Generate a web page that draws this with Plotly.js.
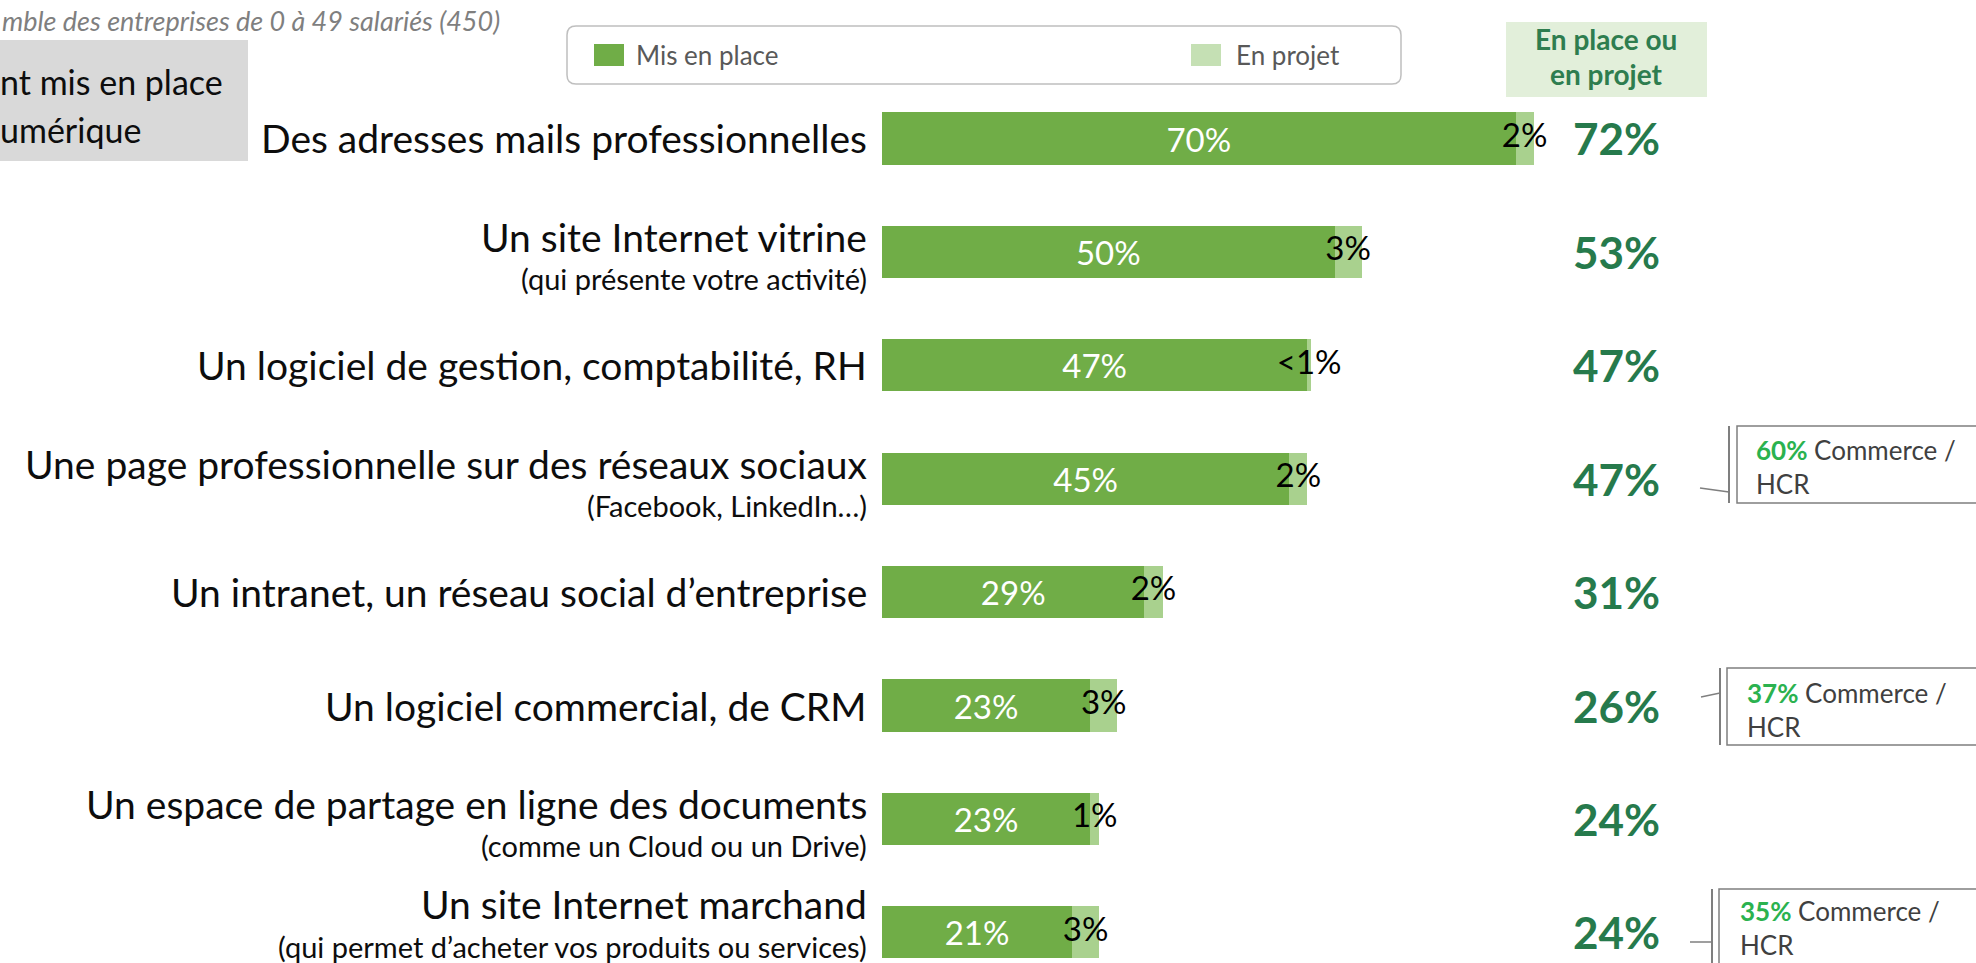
<!DOCTYPE html>
<html>
<head>
<meta charset="utf-8">
<script src="https://cdn.plot.ly/plotly-3.0.1.min.js"></script>
<style>
    html, body { margin: 0; padding: 0; background: #ffffff; }
    #chart { width: 1976px; height: 963px; }
</style>
</head>
<body>
<div id="chart"></div>
<script>
// ---- data ----
const categories = [
    'Des adresses mails professionnelles',
    'Un site Internet vitrine',
    'Un logiciel de gestion, comptabilité, RH',
    'Une page professionnelle sur des réseaux sociaux',
    'Un intranet, un réseau social d\u2019entreprise',
    'Un logiciel commercial, de CRM',
    'Un espace de partage en ligne des documents',
    'Un site Internet marchand'
];
const subLabels = [
    '',
    '(qui présente votre activité)',
    '',
    '(Facebook, LinkedIn\u2026)',
    '',
    '',
    '(comme un Cloud ou un Drive)',
    '(qui permet d\u2019acheter vos produits ou services)'
];
const misEnPlace = [70, 50, 47, 45, 29, 23, 23, 21];
const enProjet = [2, 3, 0.4, 2, 2, 3, 1, 3];
const enProjetLabels = ['2%', '3%', '<1%', '2%', '2%', '3%', '1%', '3%'];
const totals = [72, 53, 47, 47, 31, 26, 24, 24];
const calloutRows = [3, 5, 7];
const calloutValues = [60, 37, 35];
const calloutSegment = 'Commerce /<br>HCR';
const seriesNames = ['Mis en place', 'En projet'];

// texts of the slide that are cropped by the picture's left edge
const baseText = 'mble des entreprises de 0 à 49 salariés (450)';
const questionLines = ['nt mis en place', 'umérique'];

// ---- page geometry (pixels) ----
const W = 1976, H = 963;
const px = x => x / W;
const py = y => 1 - y / H;
const ROW0 = 138.5, ROW_STEP = 113.4;
const X0 = 882, PX_PER_PCT = 9.05;

const COLORS = {
    dark: '#70ad47',
    light: '#a9d18e',
    legendLight: '#c5e0b4',
    total: '#267a4c',
    accent: '#2bb24f',
    grey: '#7f7f7f',
};
const FONT = 'Lato, "Open Sans", sans-serif';

// bars
const data = [
    {
        type: 'bar',
        orientation: 'h',
        name: seriesNames[0],
        y: categories,
        x: misEnPlace,
        width: 0.46,
        marker: { color: COLORS.dark, line: { width: 0 } },
        text: misEnPlace.map(v => v + '%'),
        textposition: 'inside',
        insidetextanchor: 'middle',
        constraintext: 'none',
        textfont: { family: FONT, size: 33, color: '#ffffff' },
        hoverinfo: 'skip',
    },
    {
        type: 'bar',
        orientation: 'h',
        name: seriesNames[1],
        y: categories,
        x: enProjet,
        width: 0.46,
        marker: { color: COLORS.light, line: { width: 0 } },
        textposition: 'none',
        hoverinfo: 'skip',
    },
    {
        type: 'scatter',
        mode: 'text',
        y: categories,
        x: misEnPlace.map((v, i) => v + enProjet[i] / 2),
        text: enProjetLabels,
        textposition: 'middle center',
        textfont: { family: FONT, size: 33, color: '#000000' },
        cliponaxis: false,
        hoverinfo: 'skip',
        showlegend: false,
    },
];

const annotations = [];
const shapes = [];

// category labels (main line + optional sub line)
categories.forEach((c, i) => {
    const hasSub = subLabels[i] !== '';
    const extra = (i === categories.length - 1) ? -13 : 0;
    annotations.push({
        xref: 'paper', yref: 'y', x: px(869), y: c,
        xanchor: 'right', yanchor: 'middle',
        yshift: hasSub ? 15 - extra : 0,
        text: c, showarrow: false,
        font: { family: FONT, size: 39, color: '#0d0d0d' },
    });
    if (hasSub) {
        annotations.push({
            xref: 'paper', yref: 'y', x: px(869), y: c,
            xanchor: 'right', yanchor: 'middle',
            yshift: -27 - extra,
            text: subLabels[i], showarrow: false,
            font: { family: FONT, size: 29, color: '#0d0d0d' },
        });
    }
    // totals column
    annotations.push({
        xref: 'paper', yref: 'y', x: px(1616), y: c,
        xanchor: 'center', yanchor: 'middle',
        text: '<b>' + totals[i] + '%</b>', showarrow: false,
        font: { family: FONT, size: 44, color: COLORS.total },
    });
});

// header of totals column
shapes.push({
    type: 'rect', xref: 'paper', yref: 'paper',
    x0: px(1506), x1: px(1707), y0: py(22), y1: py(97),
    fillcolor: '#e2efda', line: { width: 0 }, layer: 'below',
});
annotations.push(
    { xref: 'paper', yref: 'paper', x: px(1606), y: py(39), xanchor: 'center', yanchor: 'middle',
      text: '<b>En place ou</b>', showarrow: false, font: { family: FONT, size: 28, color: '#2e7d4f' } },
    { xref: 'paper', yref: 'paper', x: px(1606), y: py(74), xanchor: 'center', yanchor: 'middle',
      text: '<b>en projet</b>', showarrow: false, font: { family: FONT, size: 28, color: '#2e7d4f' } }
);

// subtitle and question box (top-left)
annotations.push({
    xref: 'paper', yref: 'paper', x: px(0), y: py(2), xanchor: 'left', yanchor: 'top',
    text: '<i>' + baseText + '</i>', showarrow: false,
    font: { family: FONT, size: 27, color: '#7f7f7f' },
});
shapes.push({
    type: 'rect', xref: 'paper', yref: 'paper',
    x0: px(-10), x1: px(248), y0: py(40), y1: py(161),
    fillcolor: '#d9d9d9', line: { width: 0 }, layer: 'below',
});
questionLines.forEach((t, i) => {
    annotations.push({
        xref: 'paper', yref: 'paper', x: px(-2), y: py(81 + 48 * i), xanchor: 'left', yanchor: 'middle',
        text: t, showarrow: false, font: { family: FONT, size: 34, color: '#0d0d0d' },
    });
});

// legend box (drawn by hand to get the wide layout)
function roundRect(x0, y0, x1, y1, r) {
    const p = (x, y) => px(x) + ',' + py(y);
    return 'M' + p(x0 + r, y0) + ' L' + p(x1 - r, y0) + ' Q' + p(x1, y0) + ' ' + p(x1, y0 + r) +
        ' L' + p(x1, y1 - r) + ' Q' + p(x1, y1) + ' ' + p(x1 - r, y1) +
        ' L' + p(x0 + r, y1) + ' Q' + p(x0, y1) + ' ' + p(x0, y1 - r) +
        ' L' + p(x0, y0 + r) + ' Q' + p(x0, y0) + ' ' + p(x0 + r, y0) + ' Z';
}
shapes.push({
    type: 'path', xref: 'paper', yref: 'paper',
    path: roundRect(567, 26, 1401, 84, 9),
    line: { color: '#bfbfbf', width: 1.5 }, fillcolor: 'rgba(0,0,0,0)',
});
const legendItems = [
    { sx: 594, tx: 634, color: COLORS.dark },
    { sx: 1191, tx: 1234, color: COLORS.legendLight },
];
legendItems.forEach((it, i) => {
    shapes.push({
        type: 'rect', xref: 'paper', yref: 'paper',
        x0: px(it.sx), x1: px(it.sx + 30), y0: py(44), y1: py(66),
        fillcolor: it.color, line: { width: 0 },
    });
    annotations.push({
        xref: 'paper', yref: 'paper', x: px(it.tx), y: py(55), xanchor: 'left', yanchor: 'middle',
        text: seriesNames[i], showarrow: false, font: { family: FONT, size: 26, color: '#595959' },
    });
});

// sector callouts on the right
const CALLOUT_POS = [
    { vx: 1729, bx: 1737, top: 426, bottom: 503, c: [1700, 488, 1729, 492], tx: 1754, ty: 467 },
    { vx: 1720, bx: 1727, top: 668, bottom: 745, c: [1701, 697, 1720, 693], tx: 1745, ty: 710 },
    { vx: 1712, bx: 1719, top: 889, bottom: 980, c: [1690, 942, 1712, 942], tx: 1738, ty: 928 },
];
calloutRows.forEach((row, k) => {
    const p = CALLOUT_POS[k];
    shapes.push(
        { type: 'line', xref: 'paper', yref: 'paper', x0: px(p.vx), x1: px(p.vx), y0: py(p.top), y1: py(p.bottom),
          line: { color: COLORS.grey, width: 2 } },
        { type: 'rect', xref: 'paper', yref: 'paper', x0: px(p.bx), x1: px(W + 20), y0: py(p.top), y1: py(p.bottom),
          line: { color: COLORS.grey, width: 1.5 }, fillcolor: '#ffffff' },
        { type: 'line', xref: 'paper', yref: 'paper', x0: px(p.c[0]), y0: py(p.c[1]), x1: px(p.c[2]), y1: py(p.c[3]),
          line: { color: COLORS.grey, width: 1.5 } }
    );
    annotations.push({
        xref: 'paper', yref: 'paper', x: px(p.tx), y: py(p.ty), xanchor: 'left', yanchor: 'middle', align: 'left',
        text: '<b><span style="color:' + COLORS.accent + '">' + calloutValues[k] + '%</span></b> ' + calloutSegment,
        showarrow: false, font: { family: FONT, size: 26, color: '#404040' },
    });
});

const yTop = ROW0 - ROW_STEP / 2;
const layout = {
    width: W,
    height: H,
    paper_bgcolor: '#ffffff',
    plot_bgcolor: 'rgba(0,0,0,0)',
    margin: { t: 0, r: 0, b: 0, l: 0 },
    barmode: 'stack',
    showlegend: false,
    hovermode: false,
    font: { family: FONT, color: '#0d0d0d' },
    xaxis: {
        domain: [px(X0), px(X0 + 100 * PX_PER_PCT)],
        range: [0, 100],
        visible: false,
        fixedrange: true,
    },
    yaxis: {
        type: 'category',
        categoryorder: 'array',
        categoryarray: categories,
        domain: [0, py(yTop)],
        range: [(H - ROW0) / ROW_STEP, -0.5],
        visible: false,
        fixedrange: true,
    },
    shapes: shapes,
    annotations: annotations,
};

Plotly.newPlot('chart', data, layout, { displayModeBar: false, responsive: false, staticPlot: true });
</script>
</body>
</html>
